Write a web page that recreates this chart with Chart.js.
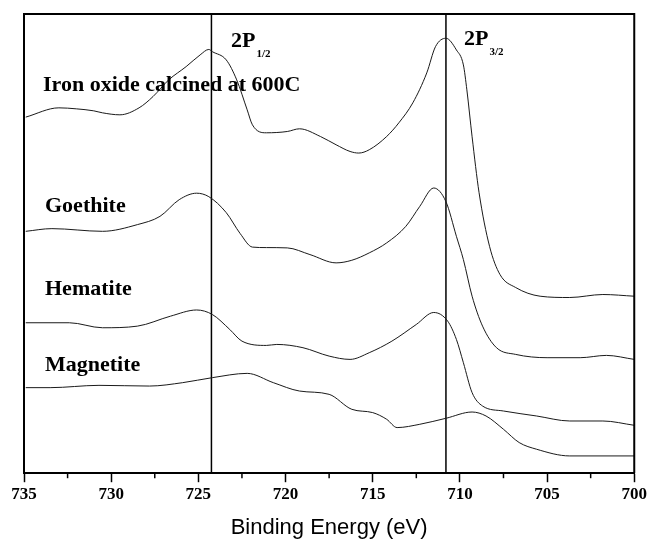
<!DOCTYPE html>
<html lang="en">
<head>
  <meta charset="UTF-8">
  <title>Fe 2p XPS spectra</title>
  <script src="https://cdn.jsdelivr.net/npm/chart.js"></script>
  <style>
    html, body { margin: 0; padding: 0; background: #fff; }
    #wrap { width: 649px; height: 543px; }
  </style>
</head>
<body>
  <div id="wrap"><canvas id="xps"></canvas></div>

  <script>
    // binding energy (eV) and intensity (arb. units, offset)
    const ironOxideEV = [734.9, 733.0, 732.0, 731.0, 730.5, 729.5, 728.4, 727.6, 726.7, 725.7, 724.9, 724.4, 724.2, 723.4, 722.8, 722.2, 721.9, 721.1, 719.9, 719.2, 718.0, 717.1, 716.3, 715.8, 715.2, 714.2, 713.5, 712.7, 711.9, 711.4, 710.8, 710.2, 709.8, 709.6, 709.3, 708.9, 708.3, 707.7, 706.8, 705.4, 703.7, 701.8, 700.0];
    const ironOxideI  = [356.7, 366, 365, 363, 361, 359, 366, 377.3, 394, 407.3, 419, 424.5, 422.3, 414, 394, 364, 349, 341, 342.3, 345, 337.3, 329, 322.3, 320.7, 324, 337.3, 351, 371, 401, 427.3, 435.7, 424, 409, 384, 337, 281, 227.3, 199, 186, 177.3, 176, 179, 177.3];

    const goethiteEV = [734.9, 733.4, 730.5, 728.5, 727.2, 726.1, 725.1, 724.4, 723.4, 722.6, 721.9, 721.1, 719.9, 718.6, 717.1, 716.2, 715.2, 714.2, 713.1, 712.3, 711.5, 710.8, 710.2, 709.8, 709.3, 708.7, 707.9, 706.8, 705.0, 703.1, 701.6, 700.0];
    const goethiteI  = [242.3, 245, 242.3, 249, 257.3, 274, 280.5, 277, 261, 240, 226.5, 226, 225.7, 219, 210.7, 213.3, 220.7, 230.7, 247.3, 267.3, 285.7, 272, 237.3, 214, 177.3, 147.3, 125.7, 119, 115.7, 115.7, 118, 114];

    const hematiteEV = [734.9, 732.4, 730.5, 728.5, 726.6, 725.1, 724.2, 723.2, 722.5, 721.1, 720.5, 719.0, 717.5, 716.3, 715.2, 713.9, 712.5, 711.5, 710.7, 710.2, 709.8, 709.3, 708.7, 707.5, 705.6, 703.7, 701.8, 700.0];
    const hematiteI  = [150.7, 150.7, 145.7, 147.3, 157.3, 163.5, 159, 144, 132.3, 128, 129, 125.7, 117.3, 114, 120.7, 132.3, 149, 161, 152.3, 134, 110.7, 80.7, 67.3, 62.3, 57.3, 52.3, 52.3, 48];

    const magnetiteEV = [734.9, 733.5, 730.7, 727.8, 725.9, 724.2, 722.2, 720.7, 719.2, 717.5, 716.2, 715.0, 714.2, 713.6, 712.3, 710.8, 709.3, 708.5, 707.5, 706.6, 705.6, 703.7, 700.0];
    const magnetiteI  = [85.7, 85.7, 88, 87.3, 90.7, 95.7, 100, 90.7, 82.3, 79, 64, 60.7, 54, 45.7, 49, 55, 61.3, 57.3, 44, 30.7, 24, 17.3, 17.3];

    // peak markers: 2P1/2 and 2P3/2
    const peakEV = [724.25, 710.8];
    const peakNames = ['2P', '2P'];
    const peakSubs = ['1/2', '3/2'];

    const sampleNames = ['Iron oxide calcined at 600C', 'Goethite', 'Hematite', 'Magnetite'];
    const xTicks = [735, 730, 725, 720, 715, 710, 705, 700];

    const toPoints = (ev, inten) => ev.map((e, i) => ({ x: e, y: inten[i] }));

    const spectrum = (label, ev, inten) => ({
      label: label,
      data: toPoints(ev, inten),
      borderColor: '#1a1a1a',
      borderWidth: 1,
      pointRadius: 0,
      cubicInterpolationMode: 'monotone',
      fill: false
    });

    const datasets = [
      spectrum(sampleNames[0], ironOxideEV, ironOxideI),
      spectrum(sampleNames[1], goethiteEV, goethiteI),
      spectrum(sampleNames[2], hematiteEV, hematiteI),
      spectrum(sampleNames[3], magnetiteEV, magnetiteI)
    ];
    peakEV.forEach((e, i) => {
      datasets.push({
        label: peakNames[i] + peakSubs[i],
        data: [{ x: e, y: 0 }, { x: e, y: 460 }],
        borderColor: '#000',
        borderWidth: 1.5,
        pointRadius: 0,
        tension: 0
      });
    });

    // frame, minor ticks and the text labels inside the plot
    const decorations = {
      id: 'decorations',
      afterDraw(chart) {
        const ctx = chart.ctx;
        const a = chart.chartArea;
        const xs = chart.scales.x;
        ctx.save();
        ctx.strokeStyle = '#000';
        ctx.lineWidth = 2;
        ctx.beginPath();
        ctx.moveTo(a.left, a.bottom);
        ctx.lineTo(a.left, a.top);
        ctx.lineTo(a.right, a.top);
        ctx.lineTo(a.right, a.bottom);
        ctx.stroke();

        // minor ticks halfway between the labelled ones
        ctx.lineWidth = 1.5;
        for (let i = 0; i < xTicks.length - 1; i++) {
          const px = xs.getPixelForValue((xTicks[i] + xTicks[i + 1]) / 2);
          ctx.beginPath();
          ctx.moveTo(px, a.bottom);
          ctx.lineTo(px, a.bottom + 5);
          ctx.stroke();
        }

        ctx.fillStyle = '#000';
        ctx.textBaseline = 'alphabetic';
        ctx.font = 'bold 22px "Liberation Serif", "Times New Roman", serif';
        const labelPos = [[43, 91], [45, 212], [45, 295], [45, 371]];
        sampleNames.forEach((n, i) => ctx.fillText(n, labelPos[i][0], labelPos[i][1]));

        const peakPos = [[231, 47], [464, 45]];
        peakEV.forEach((e, i) => {
          ctx.font = 'bold 22px "Liberation Serif", "Times New Roman", serif';
          ctx.fillText(peakNames[i], peakPos[i][0], peakPos[i][1]);
          const w = ctx.measureText(peakNames[i]).width;
          ctx.font = 'bold 11px "Liberation Serif", "Times New Roman", serif';
          ctx.fillText(peakSubs[i], peakPos[i][0] + w + 1, peakPos[i][1] + 10);
        });
        ctx.restore();
      }
    };

    new Chart(document.getElementById('xps'), {
      type: 'line',
      data: { datasets: datasets },
      options: {
        responsive: true,
        maintainAspectRatio: false,
        animation: false,
        layout: { padding: { left: 24, right: 14, top: 14, bottom: 2 } },
        plugins: {
          legend: { display: false },
          tooltip: { enabled: false }
        },
        scales: {
          x: {
            type: 'linear',
            reverse: true,
            min: 700,
            max: 735,
            afterBuildTicks: (scale) => { scale.ticks = xTicks.map(v => ({ value: v })); },
            ticks: {
              color: '#000',
              padding: 2,
              maxRotation: 0,
              font: { family: '"Liberation Serif", "Times New Roman", serif', size: 17, weight: 'bold' }
            },
            grid: {
              drawOnChartArea: false,
              drawTicks: true,
              tickLength: 9,
              tickColor: '#000',
              tickWidth: 1.5
            },
            border: { display: true, color: '#000', width: 2 },
            title: {
              display: true,
              text: 'Binding Energy (eV)',
              color: '#000',
              padding: { top: 8, bottom: 0 },
              font: { family: '"Liberation Sans", Arial, sans-serif', size: 22 }
            }
          },
          y: {
            display: false,
            min: 0,
            max: 460
          }
        }
      },
      plugins: [decorations]
    });
  </script>
</body>
</html>
